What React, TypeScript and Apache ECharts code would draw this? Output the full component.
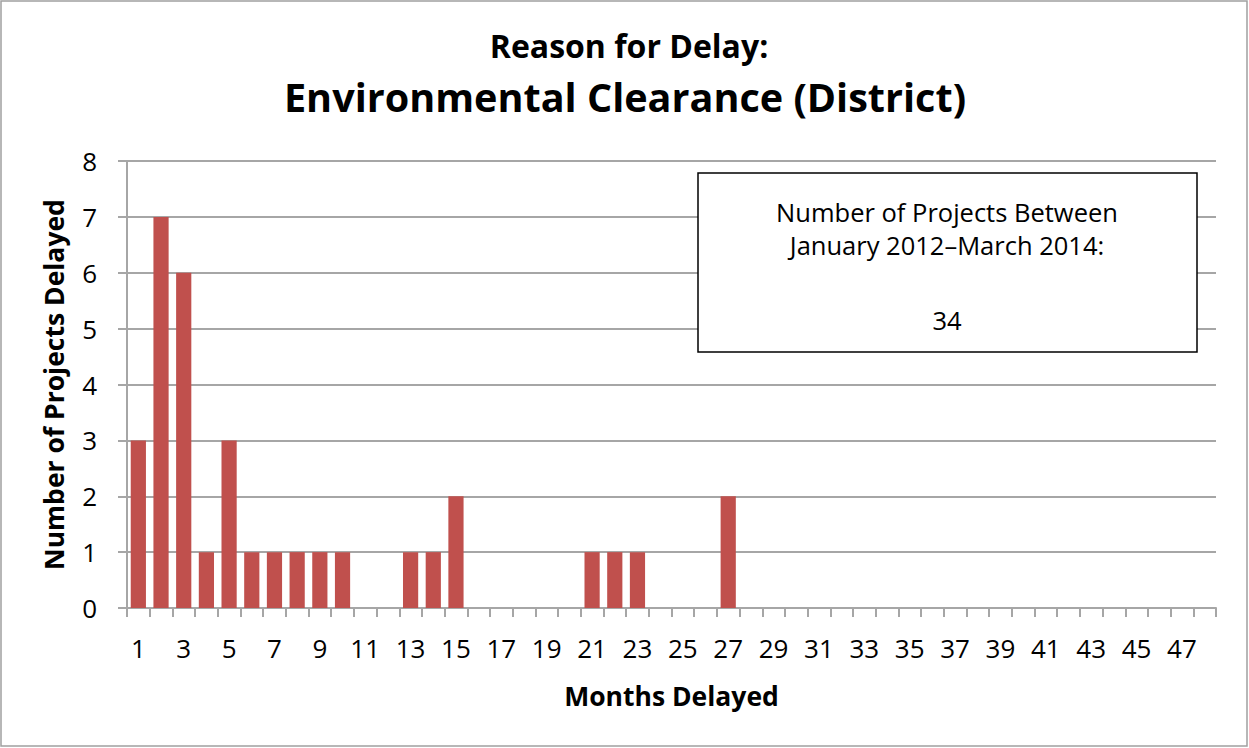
import React, { useEffect, useRef } from "react";
import * as echarts from "echarts";

const months: string[] = Array.from({ length: 48 }, (_, i) => String(i + 1));
const projectsDelayed: number[] = [
  3, 7, 6, 1, 3, 1, 1, 1, 1, 1,
  0, 0, 1, 1, 2, 0, 0, 0, 0, 0,
  1, 1, 1, 0, 0, 0, 2, 0, 0, 0,
  0, 0, 0, 0, 0, 0, 0, 0, 0, 0,
  0, 0, 0, 0, 0, 0, 0, 0,
];
const titleLine1 = "Reason for Delay:";
const titleLine2 = "Environmental Clearance (District)";
const yAxisTitle = "Number of Projects Delayed";
const xAxisTitle = "Months Delayed";
const noteLines = ["Number of Projects Between", "January 2012\u2013March 2014:"];

const FONT = "'Open Sans', 'Noto Sans', sans-serif";

export default function App() {
  const ref = useRef<HTMLDivElement>(null);
  useEffect(() => {
    if (!ref.current) return;
    const chart = echarts.init(ref.current, undefined, { renderer: "svg" });
    const total = projectsDelayed.reduce((a, b) => a + b, 0);
    const grid = "#a6a6a6";
    chart.setOption({
      animation: false,
      backgroundColor: "#ffffff",
      textStyle: { fontFamily: FONT },
      grid: { left: 127, right: 33, top: 161, bottom: 140 },
      xAxis: {
        type: "category",
        data: months,
        name: xAxisTitle,
        nameLocation: "middle",
        nameGap: 74,
        nameTextStyle: { fontSize: 26.5, fontWeight: "bold", color: "#000", fontFamily: FONT },
        axisLine: { show: true, lineStyle: { color: grid, width: 2 } },
        axisTick: { show: true, interval: 0, length: 9, alignWithLabel: false, lineStyle: { color: grid, width: 2 } },
        axisLabel: { interval: 1, fontSize: 26, color: "#000", margin: 27, fontFamily: FONT },
        splitLine: { show: false },
      },
      yAxis: {
        type: "value",
        min: 0,
        max: 8,
        interval: 1,
        name: yAxisTitle,
        nameLocation: "middle",
        nameGap: 60,
        nameTextStyle: { fontSize: 26.5, fontWeight: "bold", color: "#000", fontFamily: FONT },
        axisLine: { show: true, lineStyle: { color: grid, width: 2 } },
        axisTick: { show: true, length: 9, lineStyle: { color: grid, width: 2 } },
        axisLabel: { fontSize: 26, color: "#000", margin: 30, fontFamily: FONT },
        splitLine: { show: true, lineStyle: { color: grid, width: 2 } },
      },
      series: [
        {
          type: "bar",
          data: projectsDelayed,
          barCategoryGap: "33%",
          itemStyle: { color: "#c0504d" },
          z: 3,
        },
      ],
      graphic: [
        {
          type: "rect",
          shape: { x: 1, y: 1, width: 1246, height: 745 },
          style: { fill: "none", stroke: "#a0a0a0", lineWidth: 1.5 },
          silent: true,
        },
        {
          type: "text",
          x: 629,
          y: 45,
          style: { text: titleLine1, fontSize: 32, fontWeight: "bold", fontFamily: FONT, fill: "#000", align: "center", verticalAlign: "middle" },
        },
        {
          type: "text",
          x: 625,
          y: 97,
          style: { text: titleLine2, fontSize: 39.6, fontWeight: "bold", fontFamily: FONT, fill: "#000", align: "center", verticalAlign: "middle" },
        },
        {
          type: "rect",
          shape: { x: 698, y: 173, width: 499, height: 179 },
          style: { fill: "#fff", stroke: "#000", lineWidth: 1.5 },
          z: 10,
        },
        {
          type: "text",
          x: 947,
          y: 212,
          z: 11,
          style: { text: noteLines[0], fontSize: 25.5, fontFamily: FONT, fill: "#000", align: "center", verticalAlign: "middle" },
        },
        {
          type: "text",
          x: 947,
          y: 245,
          z: 11,
          style: { text: noteLines[1], fontSize: 25.5, fontFamily: FONT, fill: "#000", align: "center", verticalAlign: "middle" },
        },
        {
          type: "text",
          x: 947,
          y: 320,
          z: 11,
          style: { text: String(total), fontSize: 25.5, fontFamily: FONT, fill: "#000", align: "center", verticalAlign: "middle" },
        },
      ],
    });
    return () => chart.dispose();
  }, []);
  return (
    <div
      ref={ref}
      style={{ position: "fixed", left: 0, top: 0, width: 1249, height: 748 }}
    />
  );
}
